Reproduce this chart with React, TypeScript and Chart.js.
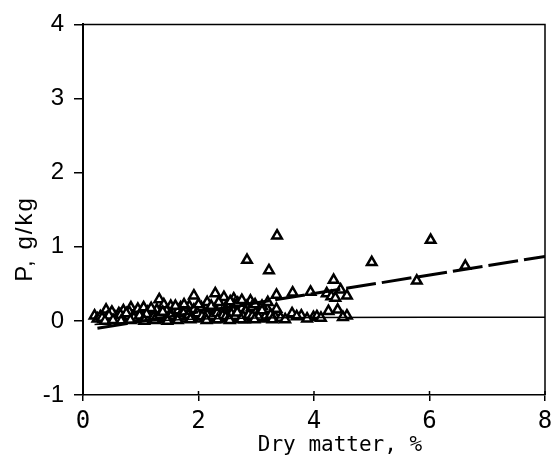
import React, { useEffect, useRef } from "react";
import { Chart, registerables } from "chart.js";

Chart.register(...registerables);

// Scatter observations: dry matter (%) vs P (g/kg)
const dmPct: number[] = [
  2.84, 3.22, 3.36, 5.0, 6.02, 6.62, 5.78, 4.34, 3.35, 3.63, 3.94, 4.22, 4.46, 4.57, 4.3, 4.37,
  2.9, 4.25, 4.41, 4.57, 3.99, 3.78, 3.62, 3.33, 3.19, 3.35, 1.92, 2.29, 1.32, 0.4, 2.44, 2.61,
  0.2, 1.69, 1.84, 2.15, 0.83, 1.52, 2.84, 2.5, 2.7, 2.95, 3.05,
  0.25, 0.3, 0.35, 0.42, 0.48, 0.5, 0.55, 0.6, 0.62, 0.68, 0.72, 0.78, 0.8, 0.85, 0.9, 0.95,
  1.0, 1.02, 1.08, 1.12, 1.15, 1.2, 1.25, 1.28, 1.3, 1.35, 1.4, 1.42, 1.45, 1.5, 1.55, 1.58,
  1.62, 1.65, 1.7, 1.72, 1.78, 1.8, 1.85, 1.9, 1.92, 1.95, 2.0, 2.02, 2.05, 2.08, 2.1, 2.12,
  2.18, 2.2, 2.25, 2.28, 2.3, 2.35, 2.38, 2.4, 2.45, 2.48, 2.5, 2.52, 2.55, 2.58, 2.6, 2.62,
  2.65, 2.7, 2.72, 2.75, 2.78, 2.8, 2.82, 2.85, 2.88, 2.92, 2.95, 3.0, 3.02, 3.08, 3.12, 3.15,
  3.25, 3.28, 3.42, 3.5, 3.7, 3.88, 4.05, 4.12, 4.5,
  0.5, 0.7, 0.95, 1.05, 1.18, 1.6, 1.75, 2.0, 2.22, 2.35, 2.55, 2.68, 2.98, 3.1, 3.2, 2.75,
  0.33, 0.45, 0.58, 0.65, 0.75, 0.88, 0.98, 1.1, 1.22, 1.33, 1.38, 1.48, 1.52, 1.68, 1.74, 1.83,
  1.88, 1.98, 2.06, 2.15, 2.24, 2.32, 2.42, 2.47, 2.57, 2.63, 2.67, 2.77, 2.87, 2.93, 3.04, 3.1,
  0.38, 0.52, 0.66, 0.82, 1.06, 1.24, 1.46, 1.64, 1.86, 2.14, 2.33, 2.54, 2.74, 2.97,
];
const pGkg: number[] = [
  0.82, 0.68, 1.15, 0.79, 1.09, 0.74, 0.54, 0.55, 0.35, 0.38, 0.39, 0.37, 0.42, 0.34, 0.33, 0.31,
  0.27, 0.13, 0.15, 0.07, 0.05, 0.07, 0.1, 0.05, 0.16, 0.16, 0.34, 0.37, 0.29, 0.15, 0.32, 0.3,
  0.07, 0.18, 0.2, 0.25, 0.18, 0.2, 0.2, 0.22, 0.15, 0.1, 0.08,
  0.03, 0.06, 0.02, 0.05, 0.09, 0.02, 0.06, 0.04, 0.1, 0.03, 0.07, 0.05, 0.12, 0.02, 0.08, 0.05,
  0.1, 0.03, 0.07, 0.12, 0.04, 0.09, 0.06, 0.15, 0.02, 0.1, 0.22, 0.05, 0.13, 0.08, 0.03, 0.11,
  0.06, 0.14, 0.09, 0.03, 0.12, 0.06, 0.1, 0.04, 0.15, 0.08, 0.12, 0.03, 0.18, 0.07, 0.1, 0.04,
  0.14, 0.08, 0.11, 0.02, 0.16, 0.06, 0.2, 0.1, 0.04, 0.13, 0.07, 0.18, 0.1, 0.03, 0.14, 0.22,
  0.08, 0.12, 0.04, 0.17, 0.09, 0.02, 0.13, 0.06, 0.1, 0.18, 0.04, 0.12, 0.07, 0.03, 0.1, 0.05,
  0.08, 0.02, 0.04, 0.02, 0.06, 0.03, 0.06, 0.04, 0.05,
  0.12, 0.14, 0.16, 0.18, 0.17, 0.2, 0.22, 0.22, 0.2, 0.25, 0.26, 0.24, 0.22, 0.2, 0.25, 0.28,
  0.04, 0.07, 0.03, 0.08, 0.1, 0.04, 0.07, 0.09, 0.05, 0.08, 0.12, 0.04, 0.06, 0.07, 0.1, 0.08,
  0.05, 0.1, 0.06, 0.08, 0.05, 0.1, 0.07, 0.05, 0.09, 0.06, 0.11, 0.06, 0.08, 0.06, 0.05, 0.14,
  0.0, 0.01, 0.0, 0.01, 0.0, 0.01, 0.0, 0.01, 0.02, 0.01, 0.02, 0.01, 0.02, 0.02,
];

// Solid fitted curve
const solidX: number[] = [0.2, 0.6, 1.0, 1.5, 2.0, 3.0, 4.0, 8.0];
const solidY: number[] = [-0.05, -0.03, -0.01, 0.01, 0.025, 0.04, 0.045, 0.05];

// Dashed regression line
const dashX: number[] = [0.25, 8.0];
const dashY: number[] = [-0.1, 0.87];

const xTicks: number[] = [0, 2, 4, 6, 8];
const yTicks: number[] = [-1, 0, 1, 2, 3, 4];

const xTitle = "Dry matter, %";
const yTitle = "P, g/kg";

const framePlugin = {
  id: "frame",
  afterDraw(chart: any) {
    const { ctx, chartArea } = chart;
    const { left, right, top, bottom } = chartArea;
    ctx.save();
    ctx.strokeStyle = "#000";
    ctx.lineWidth = 1.5;
    ctx.beginPath();
    ctx.moveTo(left, top);
    ctx.lineTo(right, top);
    ctx.lineTo(right, bottom);
    ctx.stroke();
    // inward half of x ticks
    const xs = chart.scales.x;
    xTicks.forEach((v) => {
      const px = xs.getPixelForValue(v);
      ctx.beginPath();
      ctx.moveTo(px, bottom - 4);
      ctx.lineTo(px, bottom);
      ctx.stroke();
    });
    // titles
    ctx.fillStyle = "#000";
    ctx.font = "21px 'DejaVu Sans Mono'";
    ctx.textAlign = "center";
    ctx.textBaseline = "alphabetic";
    ctx.fillText(xTitle, 340, 451);

    ctx.translate(32, 239);
    ctx.rotate(-Math.PI / 2);
    ctx.font = "24px 'Liberation Sans'";
    (ctx as any).letterSpacing = "2px";
    ctx.fillText(yTitle, 0, 0);
    ctx.restore();
  },
};

export default function App() {
  const ref = useRef<HTMLCanvasElement | null>(null);
  useEffect(() => {
    if (!ref.current) return;
    const chart = new Chart(ref.current, {
      type: "scatter",
      data: {
        datasets: [
          {
            type: "line",
            data: solidX.map((x, i) => ({ x, y: solidY[i] })),
            borderColor: "#000",
            borderWidth: 1.5,
            pointRadius: 0,
            tension: 0.3,
            fill: false,
            order: 0,
          } as any,
          {
            type: "line",
            data: dashX.map((x, i) => ({ x, y: dashY[i] })),
            borderColor: "#000",
            borderWidth: 3,
            borderDash: [30, 6],
            pointRadius: 0,
            fill: false,
            order: 0,
          } as any,
          {
            data: dmPct.map((x, i) => ({ x, y: pGkg[i] })),
            pointStyle: "triangle",
            pointRadius: 5.5,
            pointBorderWidth: 2.5,
            pointBorderColor: "#000",
            pointBackgroundColor: "#fff",
            order: 1,
          } as any,
        ],
      },
      options: {
        responsive: false,
        animation: false,
        layout: { padding: { top: 15, right: 15, left: 0, bottom: 0 } },
        plugins: { legend: { display: false }, tooltip: { enabled: false } },
        scales: {
          x: {
            type: "linear",
            min: 0,
            max: 8,
            afterBuildTicks: (s: any) => {
              s.ticks = xTicks.map((v) => ({ value: v }));
            },
            afterFit: (s: any) => {
              s.height = 69;
            },
            grid: { drawOnChartArea: false, tickLength: 6, color: "#000", lineWidth: 1.5 },
            border: { color: "#000", width: 1.5 },
            ticks: {
              color: "#000",
              padding: 6,
              font: { family: "'DejaVu Sans Mono'", size: 24 },
            },
          },
          y: {
            type: "linear",
            min: -1,
            max: 4,
            afterBuildTicks: (s: any) => {
              s.ticks = yTicks.map((v) => ({ value: v }));
            },
            afterFit: (s: any) => {
              s.width = 83;
            },
            grid: { drawOnChartArea: false, tickLength: 9, color: "#000", lineWidth: 1.5 },
            border: { color: "#000", width: 2 },
            ticks: {
              color: "#000",
              padding: 10,
              font: { family: "'Liberation Sans'", size: 24 },
            },
          },
        },
      },
      plugins: [framePlugin],
    });
    return () => chart.destroy();
  }, []);
  return (
    <div style={{ position: "absolute", left: 0, top: 0, width: 560, height: 464, background: "#fff" }}>
      <canvas ref={ref} width={560} height={464} style={{ width: 560, height: 464 }} />
    </div>
  );
}
